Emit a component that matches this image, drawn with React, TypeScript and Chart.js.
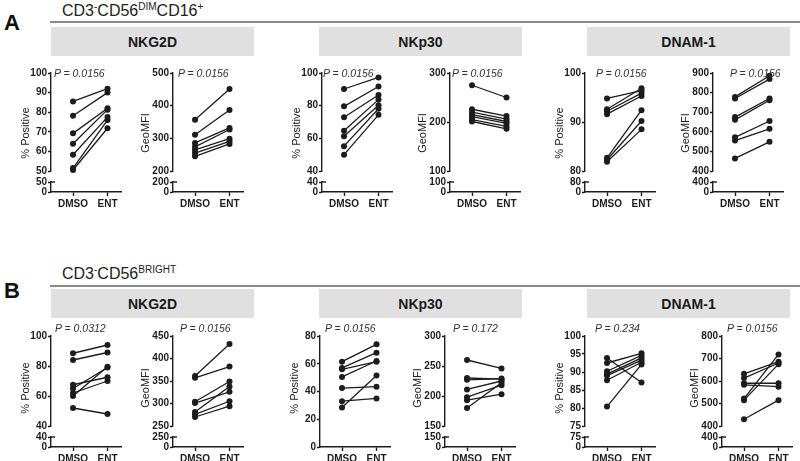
import React, { useEffect, useRef } from 'react';
import { Chart, registerables } from 'chart.js';
Chart.register(...registerables);

// ---------------- data ----------------
const categories = ['DMSO', 'ENT'];

// A: CD3-CD56dim CD16+
const dimNkg2dPosDmso = [85.5, 78.2, 69.2, 63.9, 58.3, 51.5, 50.5];
const dimNkg2dPosEnt = [92.0, 90.0, 82.0, 81.3, 77.5, 76.0, 71.8];
const dimNkg2dMfiDmso = [357, 311, 286, 274, 265, 255, 245];
const dimNkg2dMfiEnt = [451, 387, 332, 327, 299, 291, 283];
const dimNkp30PosDmso = [90.2, 79.6, 72.9, 64.6, 61.3, 55.2, 50.0];
const dimNkp30PosEnt = [97.3, 91.7, 86.5, 83.7, 80.2, 78.1, 74.4];
const dimNkp30MfiDmso = [275, 226, 220, 215, 211, 205, 201];
const dimNkp30MfiEnt = [250, 212, 206, 201, 197, 191, 186];
const dimDnam1PosDmso = [94.8, 92.6, 92.2, 91.6, 82.7, 82.3, 81.9];
const dimDnam1PosEnt = [96.4, 96.9, 95.9, 95.3, 92.4, 90.2, 88.5];
const dimDnam1MfiDmso = [778, 770, 675, 661, 572, 555, 464];
const dimDnam1MfiEnt = [886, 869, 770, 761, 655, 615, 549];

// B: CD3-CD56bright
const brNkg2dPosDmso = [88.5, 84.0, 67.5, 65.0, 62.0, 60.0, 52.0];
const brNkg2dPosEnt = [94.0, 89.0, 72.5, 79.0, 70.0, 79.5, 48.0];
const brNkg2dMfiDmso = [361, 357, 304, 301, 281, 276, 270];
const brNkg2dMfiEnt = [432, 382, 349, 326, 338, 305, 294];
const brNkp30PosDmso = [61.5, 57.0, 56.0, 50.5, 42.5, 33.0, 28.5];
const brNkp30PosEnt = [74.0, 68.0, 61.5, 62.0, 43.5, 35.0, 51.5];
const brNkp30MfiDmso = [260, 230, 227, 211, 198, 193, 180];
const brNkp30MfiEnt = [246, 228, 229, 225, 218, 203, 222];
const brDnam1PosDmso = [93.9, 92.5, 90.2, 89.4, 89.0, 87.7, 80.4];
const brDnam1PosEnt = [87.1, 95.2, 94.6, 93.9, 93.3, 92.7, 92.1];
const brDnam1MfiDmso = [632, 613, 590, 583, 522, 515, 430];
const brDnam1MfiEnt = [686, 680, 590, 575, 718, 675, 515];

// y-axis ranges [min, max, step]
const dimNkg2dPosAxis = [50, 100, 10];
const dimNkg2dMfiAxis = [200, 500, 100];
const dimNkp30PosAxis = [40, 100, 20];
const dimNkp30MfiAxis = [100, 300, 100];
const dimDnam1PosAxis = [80, 100, 10];
const dimDnam1MfiAxis = [400, 900, 100];
const brNkg2dPosAxis = [40, 100, 20];
const brNkg2dMfiAxis = [250, 450, 50];
const brNkp30PosAxis = [0, 80, 20];
const brNkp30MfiAxis = [150, 300, 50];
const brDnam1PosAxis = [75, 100, 5];
const brDnam1MfiAxis = [400, 800, 100];

const dimPValues = ['0.0156', '0.0156', '0.0156', '0.0156', '0.0156', '0.0156'];
const brPValues = ['0.0312', '0.0156', '0.0156', '0.172', '0.234', '0.0156'];
const receptors = ['NKG2D', 'NKp30', 'DNAM-1'];
const yTitles = ['% Positive', 'GeoMFI'];

// ---------------- layout ----------------
const FONT = '"Liberation Sans", Arial, Helvetica, sans-serif';
const INK = '#1c1c1c';
const AW = 32;
const XW = 70;
const RP = 8;
const PT = 8;
const PB = 8;
const XH = 20;
const TL = 3;
const X_MIN = -0.638;
const X_MAX = 1.391;

const ROWS = [
  { topTick: 73, upperBottom: 171, lowerTop: 182, zero: 192, titleY: 133, pDy: 0, header: 27, title: 2, line: 21, letter: 10 },
  { topTick: 336, upperBottom: 426, lowerTop: 437, zero: 447, titleY: 388, pDy: -8, header: 289, title: 265, line: 285, letter: 278 },
];

type PanelDef = {
  row: number;
  axisX: number;
  dmso: number[];
  ent: number[];
  axis: number[];
  broken: boolean;
  yTitle: string;
  p: string;
  pDx: number;
  tDx: number;
};

const PANELS: PanelDef[] = [
  { row: 0, axisX: 51, dmso: dimNkg2dPosDmso, ent: dimNkg2dPosEnt, axis: dimNkg2dPosAxis, broken: true, yTitle: yTitles[0], p: dimPValues[0], pDx: 3, tDx: 26 },
  { row: 0, axisX: 173, dmso: dimNkg2dMfiDmso, ent: dimNkg2dMfiEnt, axis: dimNkg2dMfiAxis, broken: true, yTitle: yTitles[1], p: dimPValues[1], pDx: 5, tDx: 28 },
  { row: 0, axisX: 322, dmso: dimNkp30PosDmso, ent: dimNkp30PosEnt, axis: dimNkp30PosAxis, broken: true, yTitle: yTitles[0], p: dimPValues[2], pDx: 1, tDx: 26 },
  { row: 0, axisX: 450, dmso: dimNkp30MfiDmso, ent: dimNkp30MfiEnt, axis: dimNkp30MfiAxis, broken: true, yTitle: yTitles[1], p: dimPValues[3], pDx: 2, tDx: 28 },
  { row: 0, axisX: 585, dmso: dimDnam1PosDmso, ent: dimDnam1PosEnt, axis: dimDnam1PosAxis, broken: true, yTitle: yTitles[0], p: dimPValues[4], pDx: 11, tDx: 26 },
  { row: 0, axisX: 713, dmso: dimDnam1MfiDmso, ent: dimDnam1MfiEnt, axis: dimDnam1MfiAxis, broken: true, yTitle: yTitles[1], p: dimPValues[5], pDx: 17, tDx: 28 },
  { row: 1, axisX: 51, dmso: brNkg2dPosDmso, ent: brNkg2dPosEnt, axis: brNkg2dPosAxis, broken: true, yTitle: yTitles[0], p: brPValues[0], pDx: 4, tDx: 26 },
  { row: 1, axisX: 173, dmso: brNkg2dMfiDmso, ent: brNkg2dMfiEnt, axis: brNkg2dMfiAxis, broken: true, yTitle: yTitles[1], p: brPValues[1], pDx: 7, tDx: 28 },
  { row: 1, axisX: 320, dmso: brNkp30PosDmso, ent: brNkp30PosEnt, axis: brNkp30PosAxis, broken: false, yTitle: yTitles[0], p: brPValues[2], pDx: 5, tDx: 26 },
  { row: 1, axisX: 445, dmso: brNkp30MfiDmso, ent: brNkp30MfiEnt, axis: brNkp30MfiAxis, broken: true, yTitle: yTitles[1], p: brPValues[3], pDx: 8, tDx: 28 },
  { row: 1, axisX: 585, dmso: brDnam1PosDmso, ent: brDnam1PosEnt, axis: brDnam1PosAxis, broken: true, yTitle: yTitles[0], p: brPValues[4], pDx: 10, tDx: 26 },
  { row: 1, axisX: 722, dmso: brDnam1MfiDmso, ent: brDnam1MfiEnt, axis: brDnam1MfiAxis, broken: true, yTitle: yTitles[1], p: brPValues[5], pDx: 5, tDx: 28 },
];

const HEADERS_X = [51, 319, 587];
const HEADER_W = 203;

const breakCap = {
  id: 'breakCap',
  afterDraw(chart: any, _a: any, opts: any) {
    if (!opts || opts.value === undefined || opts.value === null) return;
    const ctx = chart.ctx;
    const y = chart.scales.y.getPixelForValue(opts.value);
    const x = chart.chartArea.left;
    ctx.save();
    ctx.strokeStyle = INK;
    ctx.lineWidth = 1.4;
    ctx.beginPath();
    ctx.moveTo(x, y);
    ctx.lineTo(x + 4, y);
    ctx.stroke();
    ctx.restore();
  },
};

const tickFont = { family: FONT, size: 10, weight: 'bold' as const };

function yAxis(min: number, max: number, step: number, fixed?: number[]) {
  const cfg: any = {
    type: 'linear',
    min,
    max,
    border: { display: true, color: INK, width: 1.4 },
    grid: { display: true, drawOnChartArea: false, drawTicks: true, tickLength: TL, tickColor: INK, tickWidth: 1.4 },
    ticks: { autoSkip: false, stepSize: step, color: INK, padding: 1, font: tickFont },
    afterFit: (s: any) => {
      s.width = AW;
    },
  };
  if (fixed) {
    cfg.afterBuildTicks = (s: any) => {
      s.ticks = fixed.map((v) => ({ value: v }));
    };
  }
  return cfg;
}

function xAxis(show: boolean) {
  if (!show) return { type: 'linear', min: X_MIN, max: X_MAX, display: false };
  return {
    type: 'linear',
    min: X_MIN,
    max: X_MAX,
    afterBuildTicks: (s: any) => {
      s.ticks = categories.map((_, i) => ({ value: i }));
    },
    ticks: {
      autoSkip: false,
      maxRotation: 0,
      color: INK,
      padding: 2,
      font: tickFont,
      callback: (v: any) => categories[v] ?? '',
    },
    grid: { display: true, drawOnChartArea: false, drawTicks: true, tickLength: 4, tickColor: INK, tickWidth: 1.4 },
    border: { display: true, color: INK, width: 1.4 },
    afterFit: (s: any) => {
      s.height = XH;
    },
  };
}

function baseOptions(padTop: number, padBottom: number, scales: any, capValue?: number) {
  return {
    animation: false,
    responsive: false,
    maintainAspectRatio: false,
    events: [],
    layout: { padding: { top: padTop, bottom: padBottom, left: 0, right: RP } },
    plugins: {
      legend: { display: false },
      tooltip: { enabled: false },
      title: { display: false },
      breakCap: capValue === undefined ? {} : { value: capValue },
    },
    scales,
  } as any;
}

function Panel({ def }: { def: PanelDef }) {
  const upRef = useRef<HTMLCanvasElement>(null);
  const lowRef = useRef<HTMLCanvasElement>(null);
  const row = ROWS[def.row];
  const [min, max, step] = def.axis;
  const width = AW + XW + RP;
  const upH = def.broken ? PT + (row.upperBottom - row.topTick) + PB : PT + (row.zero - row.topTick) + XH;
  const lowH = PT + (row.zero - row.lowerTop) + XH;

  useEffect(() => {
    const charts: Chart[] = [];
    const datasets = def.dmso.map((d, i) => ({
      data: [
        { x: 0, y: d },
        { x: 1, y: def.ent[i] },
      ],
      borderColor: INK,
      backgroundColor: INK,
      borderWidth: 1.3,
      pointRadius: 3,
      pointBackgroundColor: INK,
      pointBorderColor: INK,
      pointBorderWidth: 0,
      clip: false,
      tension: 0,
    }));
    if (upRef.current) {
      charts.push(
        new Chart(upRef.current, {
          type: 'line',
          data: { datasets } as any,
          options: baseOptions(PT, def.broken ? PB : 0, {
            x: xAxis(!def.broken),
            y: yAxis(min, max, step),
          }),
          plugins: [breakCap],
        } as any)
      );
    }
    if (def.broken && lowRef.current) {
      charts.push(
        new Chart(lowRef.current, {
          type: 'line',
          data: { datasets: [] } as any,
          options: baseOptions(
            PT,
            0,
            {
              x: xAxis(true),
              y: yAxis(0, min, min, [0, min]),
            },
            min
          ),
          plugins: [breakCap],
        } as any)
      );
    }
    return () => charts.forEach((c) => c.destroy());
  }, []);

  return (
    <>
      <canvas
        ref={upRef}
        width={width}
        height={upH}
        style={{ position: 'absolute', left: def.axisX - AW, top: row.topTick - PT, width, height: upH }}
      />
      {def.broken && (
        <canvas
          ref={lowRef}
          width={width}
          height={lowH}
          style={{ position: 'absolute', left: def.axisX - AW, top: row.lowerTop - PT, width, height: lowH }}
        />
      )}
      <div
        style={{
          position: 'absolute',
          left: def.axisX - def.tDx,
          top: row.titleY,
          transform: 'translate(-50%, -50%) rotate(-90deg)',
          whiteSpace: 'nowrap',
          font: `11px ${FONT}`,
          color: INK,
        }}
      >
        {def.yTitle}
      </div>
      <div
        style={{
          position: 'absolute',
          left: def.axisX + def.pDx,
          top: row.topTick + row.pDy,
          transform: 'translateY(-50%)',
          whiteSpace: 'nowrap',
          font: `italic 10.5px ${FONT}`,
          color: '#333',
        }}
      >
        {'P = ' + def.p}
      </div>
    </>
  );
}

function RowDecor({ r, letter, title }: { r: number; letter: string; title: React.ReactNode }) {
  const row = ROWS[r];
  return (
    <>
      <div style={{ position: 'absolute', left: 4, top: row.letter, font: `bold 22px ${FONT}`, color: '#111' }}>{letter}</div>
      <div style={{ position: 'absolute', left: 62, top: row.title, font: `16px ${FONT}`, color: '#222', whiteSpace: 'nowrap' }}>
        {title}
      </div>
      <div style={{ position: 'absolute', left: 50, top: row.line, width: 750, height: 2, background: '#8a8a8a' }} />
      {receptors.map((name, i) => (
        <div
          key={name}
          style={{
            position: 'absolute',
            left: HEADERS_X[i],
            top: row.header,
            width: HEADER_W,
            height: 29,
            background: '#e0e0e0',
            display: 'flex',
            alignItems: 'center',
            justifyContent: 'center',
            font: `bold 14px ${FONT}`,
            color: '#1a1a1a',
          }}
        >
          {name}
        </div>
      ))}
    </>
  );
}

const supStyle: React.CSSProperties = { fontSize: 10, verticalAlign: 'super', lineHeight: 0 };

export default function App() {
  return (
    <div style={{ position: 'absolute', left: 0, top: 0, width: 800, height: 461, background: '#fff', overflow: 'hidden' }}>
      <RowDecor
        r={0}
        letter="A"
        title={
          <>
            CD3<span style={supStyle}>-</span>CD56<span style={supStyle}>DIM</span>CD16<span style={supStyle}>+</span>
          </>
        }
      />
      <RowDecor
        r={1}
        letter="B"
        title={
          <>
            CD3<span style={supStyle}>-</span>CD56<span style={supStyle}>BRIGHT</span>
          </>
        }
      />
      {PANELS.map((p, i) => (
        <Panel key={i} def={p} />
      ))}
    </div>
  );
}
